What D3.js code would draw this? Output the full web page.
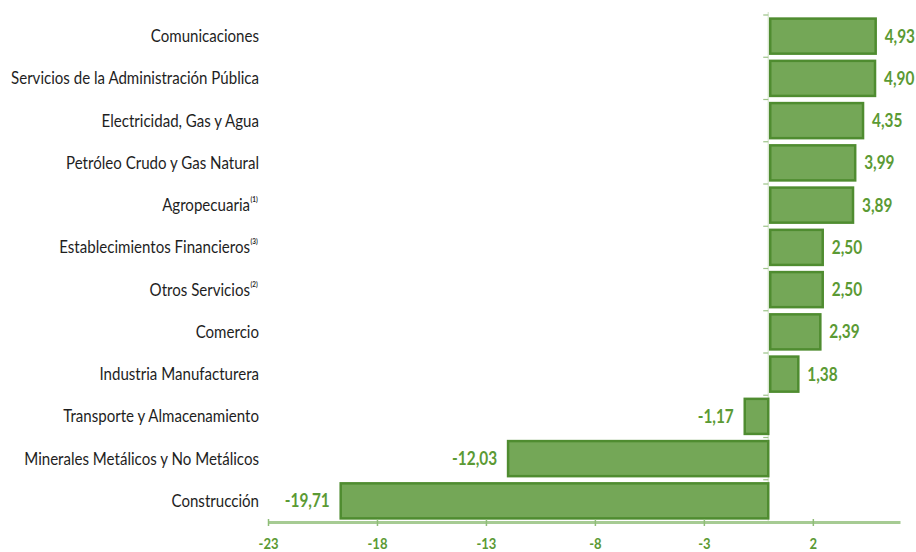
<!DOCTYPE html>
<html>
<head>
<meta charset="utf-8">
<script src="https://cdn.jsdelivr.net/npm/d3@7"></script>
<style>
  html, body { margin: 0; padding: 0; background: #ffffff; }
  svg { display: block; }
</style>
</head>
<body>
<svg id="chart" width="916" height="552"></svg>
<script>
// ---- data ----
const categories = [
  "Comunicaciones",
  "Servicios de la Administración Pública",
  "Electricidad, Gas y Agua",
  "Petróleo Crudo y Gas Natural",
  "Agropecuaria",
  "Establecimientos Financieros",
  "Otros Servicios",
  "Comercio",
  "Industria Manufacturera",
  "Transporte y Almacenamiento",
  "Minerales Metálicos y No Metálicos",
  "Construcción"
];
const notes = ["", "", "", "", "(1)", "(3)", "(2)", "", "", "", "", ""];
const values = [4.93, 4.90, 4.35, 3.99, 3.89, 2.50, 2.50, 2.39, 1.38, -1.17, -12.03, -19.71];
const tickValues = [-23, -18, -13, -8, -3, 2];

// ---- layout ----
const plotLeft = 268, plotRight = 900, plotTop = 15, plotBottom = 522;
const green = "#5b9a34";
const barFill = "#74a757";
const barStroke = "#4f8c30";
const font = "Lato, 'Noto Sans', sans-serif";

const svg = d3.select("#chart");
const x = d3.scaleLinear().domain([-23, 6]).range([plotLeft, plotRight]);
const y = d3.scaleBand().domain(categories).range([plotTop, plotBottom]).paddingInner(0.17).paddingOuter(0.085);

const data = categories.map((c, i) => ({ cat: c, note: notes[i], value: values[i] }));
const fmt = v => v.toFixed(2).replace(".", ",");

// horizontally compress text to mimic a condensed face
function squeeze(sel, s) {
  sel.each(function () {
    const t = d3.select(this);
    const tx = +t.attr("x") || 0, ty = +t.attr("y") || 0;
    t.attr("x", 0).attr("y", 0).attr("transform", `translate(${tx},${ty}) scale(${s},1)`);
  });
}
function measure(str, size, weight) {
  const t = svg.append("text").attr("font-family", font).attr("font-size", size)
    .attr("font-weight", weight).text(str);
  const w = t.node().getComputedTextLength();
  t.remove();
  return w;
}

// zero vertical line with small band ticks
const step = y.step();
const x0 = x(0);
svg.append("line")
  .attr("x1", x0 - 1).attr("x2", x0 - 1)
  .attr("y1", plotTop - 3).attr("y2", plotBottom)
  .attr("stroke", "#d5e4cc").attr("stroke-width", 1.2);
const boundaries = categories.map(c => y(c) - (step - y.bandwidth()) / 2);
svg.append("g").selectAll("line").data(boundaries).join("line")
  .attr("x1", x0 - 6).attr("x2", x0 - 1)
  .attr("y1", d => d).attr("y2", d => d)
  .attr("stroke", "#9cc387").attr("stroke-width", 1.2);

// bars
svg.append("g").selectAll("rect").data(data).join("rect")
  .attr("x", d => x(Math.min(0, d.value)) + 1)
  .attr("y", d => y(d.cat))
  .attr("width", d => Math.abs(x(d.value) - x(0)) - 2)
  .attr("height", y.bandwidth())
  .attr("fill", barFill)
  .attr("stroke", barStroke)
  .attr("stroke-width", 2.5);

// value labels
const valSize = 18;
const valScale = 45 / measure("-12,03", valSize, "bold");
const vals = svg.append("g").selectAll("text").data(data).join("text")
  .attr("x", d => d.value >= 0 ? x(d.value) + 8 : x(d.value) - 10)
  .attr("y", d => y(d.cat) + y.bandwidth() / 2 + 6.5)
  .attr("text-anchor", d => d.value >= 0 ? "start" : "end")
  .attr("font-family", font)
  .attr("font-weight", "bold")
  .attr("font-size", valSize)
  .attr("fill", green)
  .text(d => fmt(d.value));
squeeze(vals, valScale);

// category labels
const labSize = 17.5;
const labScale = 248 / measure("Servicios de la Administración Pública", labSize, "normal");
const noteW = 9;
const labs = svg.append("g").selectAll("text").data(data).join("text")
  .attr("x", d => d.note ? 259 - noteW : 259)
  .attr("y", d => y(d.cat) + y.bandwidth() / 2 + 6)
  .attr("text-anchor", "end")
  .attr("font-family", font)
  .attr("font-size", labSize)
  .attr("fill", "#1e1e1e")
  .text(d => d.cat);
squeeze(labs, labScale);
const nts = svg.append("g").selectAll("text").data(data.filter(d => d.note)).join("text")
  .attr("x", 259 - noteW + 0.5)
  .attr("y", d => y(d.cat) + y.bandwidth() / 2 - 3)
  .attr("font-family", font)
  .attr("font-size", 7.5)
  .attr("font-weight", "bold")
  .attr("fill", "#1e1e1e")
  .text(d => d.note);
squeeze(nts, 0.85);

// x axis
const axis = svg.append("g")
  .attr("transform", `translate(0,${plotBottom})`)
  .call(d3.axisBottom(x).tickValues(tickValues).tickSize(4).tickSizeOuter(0).tickFormat(d => String(d)));
axis.select(".domain").attr("stroke", "#a6cb93").attr("stroke-width", 3);
axis.selectAll(".tick line").attr("stroke", "#8fbd78").attr("stroke-width", 1.5).attr("y1", -3);
const tickSize = 16;
const tickScale = 20 / measure("-23", tickSize, "bold");
const tt = axis.selectAll(".tick text")
  .attr("y", 27)
  .attr("dy", null)
  .attr("font-family", font)
  .attr("font-weight", "bold")
  .attr("font-size", tickSize)
  .attr("fill", green);
squeeze(tt, tickScale);
</script>
</body>
</html>
